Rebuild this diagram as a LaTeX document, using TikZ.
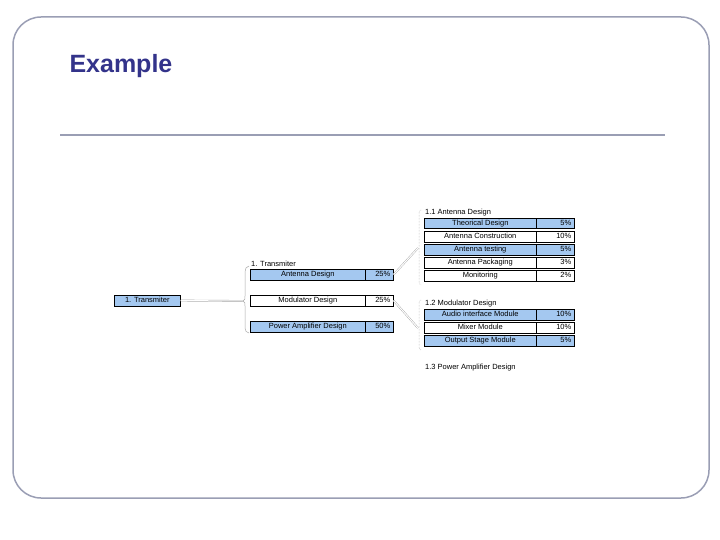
\documentclass[tikz,border=0pt]{standalone}
\usepackage{fontspec}
\setmainfont{Liberation Sans}
\usetikzlibrary{positioning, calc}
\definecolor{cellblue}{HTML}{A4C8F0}
\definecolor{titleblue}{HTML}{33338A}
\definecolor{rulegray}{HTML}{9A9EB4}

\begin{document}
\begin{tikzpicture}[x=1pt, y=-1pt,
  cell/.style  = {draw, line width=0.6pt, anchor=north west, inner sep=1.5pt,
                  font=\fontsize{7.5}{8}\selectfont, text height=6pt, text depth=1.5pt},
  task/.style  = {cell, align=left},
  pct/.style   = {cell, align=right},
  head/.style  = {anchor=south west, inner sep=1pt, font=\fontsize{7.5}{8}\selectfont},
  link/.style  = {draw=gray!70, double=white, line width=0.4pt, double distance=1pt},
  brace/.style = {draw=gray!70, line width=0.5pt}
]
\useasboundingbox (0,0) rectangle (720,540);

%--------------------------------------------------
% slide frame and title
%--------------------------------------------------
\draw[rulegray, line width=1.5pt, rounded corners=28pt] (13,17) rectangle (709,498);
\node[anchor=west, text=titleblue, font=\fontsize{25}{28}\selectfont\bfseries] (title) at (66,66) {Example};
\draw[rulegray, line width=2.5pt] (60,135) -- (665,135);

%--------------------------------------------------
% root
%--------------------------------------------------
\node[task, fill=cellblue, minimum width=66pt] (root) at (114,295) {1. Transmiter};

%--------------------------------------------------
% level 1 table
%--------------------------------------------------
\node[head] (h1) at (250,268) {1. Transmiter};
\node[task, fill=cellblue, minimum width=115pt] (ant) at (250,269) {Antenna Design};
\node[pct, fill=cellblue, minimum width=28pt, text width=22pt] (antp) at (365,269) {25\%};
\node[task, minimum width=115pt] (mod) at (250,295) {Modulator Design};
\node[pct, minimum width=28pt, text width=22pt] (modp) at (365,295) {25\%};
\node[task, fill=cellblue, minimum width=115pt] (amp) at (250,321) {Power Amplifier Design};
\node[pct, fill=cellblue, minimum width=28pt, text width=22pt] (ampp) at (365,321) {50\%};

%--------------------------------------------------
% 1.1 Antenna Design
%--------------------------------------------------
\node[head] (h11) at (424,217) {1.1 Antenna Design};
\foreach \t/\p/\f [count=\i from 0] in {Theorical Design/5/cellblue, Antenna Construction/10/white,
    Antenna testing/5/cellblue, Antenna Packaging/3/white, Monitoring/2/white}
{
  \node[task, fill=\f, minimum width=112pt] (a\i) at (424,218+13*\i) {\t};
  \node[pct, fill=\f, minimum width=38pt, text width=32pt] (ap\i) at (536,218+13*\i) {\p\%};
}

%--------------------------------------------------
% 1.2 Modulator Design
%--------------------------------------------------
\node[head] (h12) at (424,308) {1.2 Modulator Design};
\foreach \t/\p/\f [count=\i from 0] in {Audio interface Module/10/cellblue,
    Mixer Module/10/white, Output Stage Module/5/cellblue}
{
  \node[task, fill=\f, minimum width=112pt] (m\i) at (424,309+13*\i) {\t};
  \node[pct, fill=\f, minimum width=38pt, text width=32pt] (mp\i) at (536,309+13*\i) {\p\%};
}

% 1.3
\node[head] (h13) at (424,372) {1.3 Power Amplifier Design};

%--------------------------------------------------
% brackets
%--------------------------------------------------
\coordinate (b1) at (243,301);
\coordinate (b2) at (418,248);
\coordinate (b3) at (418,328);
\draw[brace] (249,266) to[out=180,in=90] (245,272) -- (245,296) to[out=-90,in=0] (b1)
  to[out=0,in=90] (245,306) -- (245,328) to[out=-90,in=180] (249,333);
\draw[brace, densely dotted] (421,210) to[out=180,in=90] (419,214) -- (419,281) to[out=-90,in=180] (421,285);
\draw[brace, densely dotted] (421,300) to[out=180,in=90] (419,304) -- (419,346) to[out=-90,in=180] (421,350);

%--------------------------------------------------
% connectors
%--------------------------------------------------
\draw[link] (root.east) -- (b1);
\draw[link] (antp.east) -- (b2);
\draw[link] (modp.east) -- (b3);

\end{tikzpicture}
\end{document}
